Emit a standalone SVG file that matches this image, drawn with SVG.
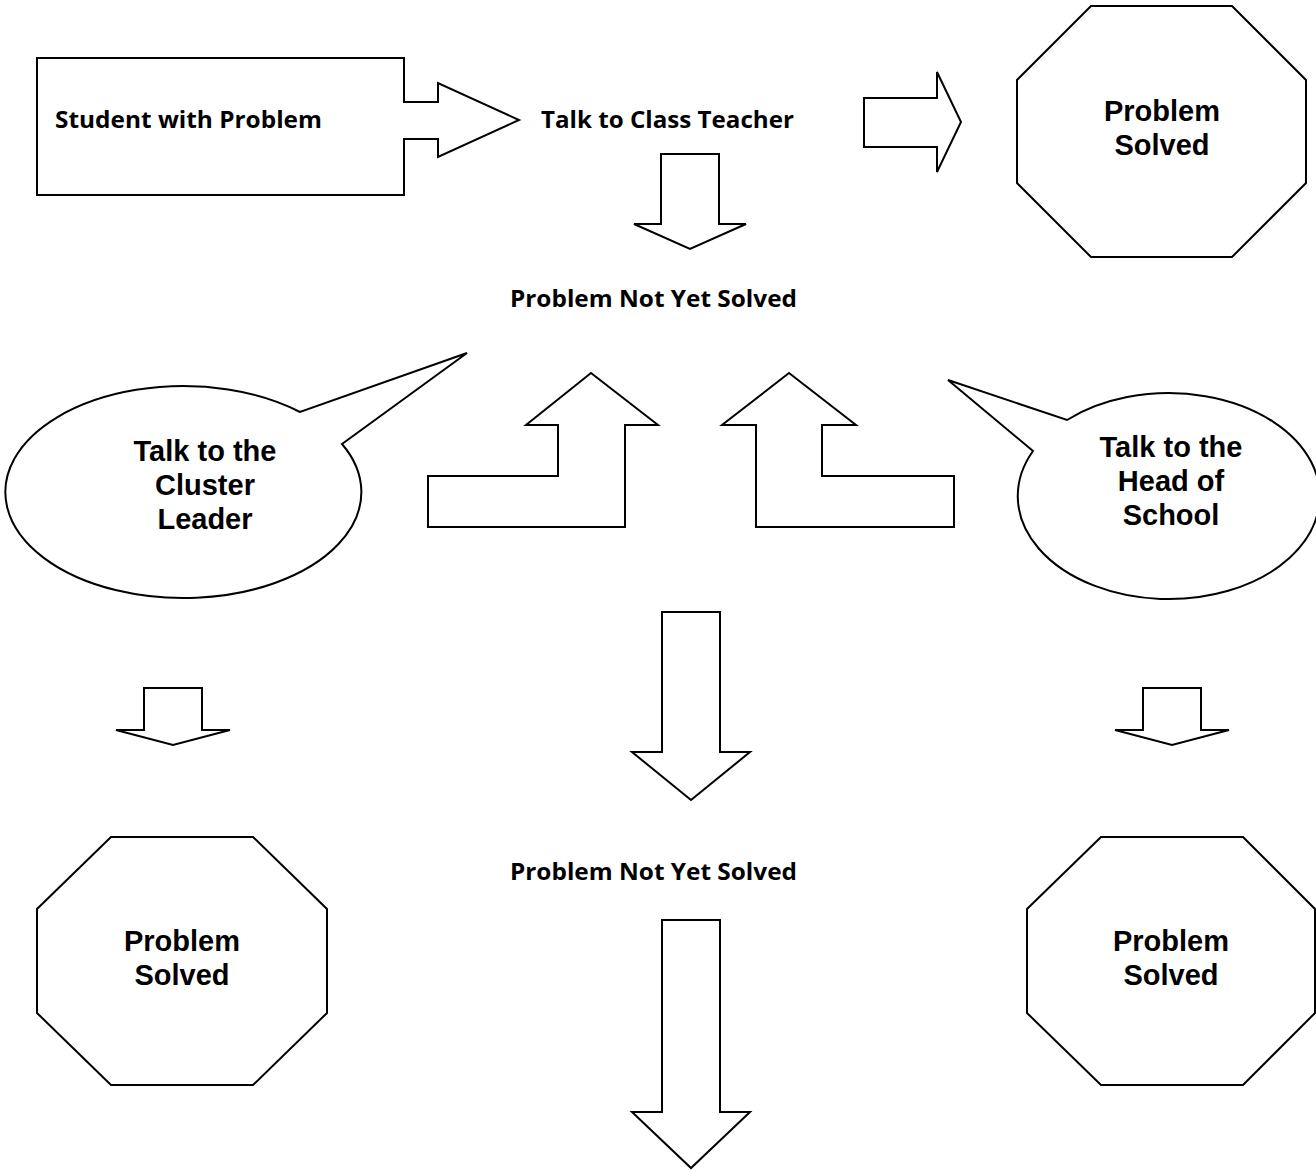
<svg xmlns="http://www.w3.org/2000/svg" width="1316" height="1173" viewBox="0 0 1316 1173">
<style>
.s{fill:#fff;stroke:#000;stroke-width:2;stroke-linejoin:miter}
.c{font-family:"Open Sans","Liberation Sans",sans-serif;font-weight:700;font-size:23px;fill:#000}
.a{font-family:"Liberation Sans",Arial,sans-serif;font-weight:700;font-size:29px;fill:#000;text-anchor:middle}
</style>
<rect width="1316" height="1173" fill="#fff"/>
<g id="student">
<path class="s" d="M37,58 H404 V102 H438 V83 L519,120 L438,157 V139 H404 V195 H37 Z"/>
<text class="c" x="55" y="128" textLength="267" lengthAdjust="spacingAndGlyphs">Student with Problem</text>
</g>
<g id="class-teacher">
<text class="c" x="541" y="128" textLength="253" lengthAdjust="spacingAndGlyphs">Talk to Class Teacher</text>
</g>
<g id="solved-top">
<polygon class="s" points="1091,6 1232,6 1306,80 1306,183 1232,257 1091,257 1017,183 1017,80"/>
<text class="a"><tspan x="1162" y="121">Problem</tspan><tspan x="1162" y="155">Solved</tspan></text>
</g>
<g id="not-solved-1">
<text class="c" x="510" y="307" textLength="287" lengthAdjust="spacingAndGlyphs">Problem Not Yet Solved</text>
</g>
<g id="cluster-leader">
<path class="s" d="M342,444 L467,353 L300,412 A178,106 0 1 0 342,444 Z"/>
<text class="a"><tspan x="205" y="461">Talk to the</tspan><tspan x="205" y="495">Cluster</tspan><tspan x="205" y="529">Leader</tspan></text>
</g>
<g id="head-of-school">
<path class="s" d="M1033,451 L948,380 L1067,420 A151,103 0 1 1 1033,451 Z"/>
<text class="a"><tspan x="1171" y="457">Talk to the</tspan><tspan x="1171" y="491">Head of</tspan><tspan x="1171" y="525">School</tspan></text>
</g>
<g id="not-solved-2">
<text class="c" x="510" y="880" textLength="287" lengthAdjust="spacingAndGlyphs">Problem Not Yet Solved</text>
</g>
<g id="solved-left">
<polygon class="s" points="111,837 253,837 327,909 327,1013 253,1085 111,1085 37,1013 37,909"/>
<text class="a"><tspan x="182" y="951">Problem</tspan><tspan x="182" y="985">Solved</tspan></text>
</g>
<g id="solved-right">
<polygon class="s" points="1101,837 1243,837 1315,909 1315,1013 1243,1085 1101,1085 1027,1013 1027,909"/>
<text class="a"><tspan x="1171" y="951">Problem</tspan><tspan x="1171" y="985">Solved</tspan></text>
</g>
<g id="connectors">
<path class="s" d="M864,98 H937 V72 L961,122 L937,172 V147 H864 Z"/>
<path class="s" d="M661,154 H719 V224 H746 L690,249 L634,224 H661 Z"/>
<path class="s" d="M591,373 L658,425 H625 V527 H428 V476 H558 V425 H526 Z"/>
<path class="s" d="M789,373 L856,425 H822 V476 H954 V527 H756 V425 H722 Z"/>
<path class="s" d="M662,612 H720 V752 H750 L691,800 L632,752 H662 Z"/>
<path class="s" d="M144,688 H202 V730 H230 L173,745 L116,730 H144 Z"/>
<path class="s" d="M1143,688 H1201 V730 H1229 L1172,745 L1115,730 H1143 Z"/>
<path class="s" d="M662,920 H720 V1112 H750 L691,1168 L632,1112 H662 Z"/>
</g>
</svg>
